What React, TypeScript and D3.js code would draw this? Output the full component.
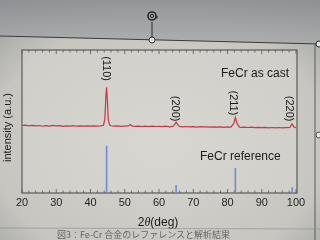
import React from "react";
import * as d3 from "d3";

// 2θ (deg) and intensity (a.u.) – FeCr as cast
const castAngle = [20, 21, 22, 23, 24, 25, 26, 27, 28, 29, 30, 31, 32, 33, 34, 35, 36, 37, 38, 39, 40, 41, 42, 43, 43.8, 44.2, 44.5, 44.7, 44.9, 45.2, 45.6, 46, 47, 48, 49, 50, 51, 51.6, 52.2, 53, 54, 55, 56, 57, 58, 59, 60, 61, 62, 63, 64, 64.6, 65, 65.4, 66, 67, 68, 69, 70, 71, 72, 73, 74, 75, 76, 77, 78, 79, 80, 81, 81.8, 82.3, 82.8, 83.5, 84, 85, 86, 87, 88, 89, 90, 91, 92, 93, 94, 95, 96, 97, 98.2, 98.8, 99.4, 100];
const castIntensity = [47.2, 47.5, 46.9, 47.3, 46.9, 47.2, 46.7, 47.1, 46.8, 47.3, 46.9, 47.1, 46.6, 47.0, 46.8, 47.1, 46.7, 46.9, 46.8, 47.0, 46.7, 46.9, 46.8, 47.0, 47.4, 52, 68, 74, 66, 51, 47.5, 47.0, 46.7, 46.9, 46.6, 46.8, 46.9, 47.9, 46.8, 46.6, 46.8, 46.5, 46.7, 46.4, 46.7, 46.5, 46.6, 46.4, 46.7, 46.3, 46.6, 48.0, 49.6, 48.0, 46.6, 46.3, 46.5, 46.2, 46.4, 46.1, 46.4, 46.2, 46.3, 46.0, 46.3, 46.1, 46.2, 45.9, 46.2, 46.0, 48.5, 52.8, 48.5, 46.1, 45.9, 46.1, 45.8, 46.0, 45.7, 45.9, 45.7, 45.9, 45.6, 45.8, 45.6, 45.8, 45.5, 45.7, 45.8, 48.3, 46.2, 45.6];

// FeCr reference stick pattern
const refAngle = [44.7, 65.0, 82.3, 98.9];
const refIntensity = [33, 5.6, 17.5, 4];

// peak labels
const peakLabels = ["(110)", "(200)", "(211)", "(220)"];
const peakLabelAngle = [44.7, 65.0, 81.9, 98.3];
const peakLabelLevel = [87, 59, 63, 59];

const xTicksMajor = [20, 30, 40, 50, 60, 70, 80, 90, 100];

export default function App() {
  const W = 320, H = 240;
  const left = 22, right = 297, top = 50, bottom = 193;
  const x = d3.scaleLinear().domain([20, 100]).range([left, right - 1]);
  const y = d3.scaleLinear().domain([0, 100]).range([bottom, top]);
  const pts = castAngle.map((a, i) => [a, castIntensity[i]] as [number, number]);
  const line = d3.line<[number, number]>().x(d => x(d[0])).y(d => y(d[1]));
  const minor = d3.range(20, 100.1, 2);
  const font = "'Liberation Sans', Arial, sans-serif";
  return (
    <svg width={W} height={H} style={{ position: "fixed", left: 0, top: 0 }}>
      <defs>
        <radialGradient id="bg" cx="0.5" cy="0.6" r="0.75">
          <stop offset="0" stopColor="#d6d5cf" />
          <stop offset="0.7" stopColor="#c6c5c0" />
          <stop offset="1" stopColor="#9c9d9d" />
        </radialGradient>
        <linearGradient id="topbg" x1="0" y1="0" x2="0" y2="1">
          <stop offset="0" stopColor="#8c8e92" />
          <stop offset="1" stopColor="#a9aaaa" />
        </linearGradient>
      </defs>
      <rect width={W} height={H} fill="url(#bg)" />
      <path d="M0,0 H320 V44 L0,36 Z" fill="url(#topbg)" opacity={0.85} />
      {/* selection UI */}
      <line x1={0} y1={36} x2={320} y2={44} stroke="#3a3a3c" strokeWidth={1} />
      <line x1={152} y1={22} x2={152} y2={37} stroke="#2a2a2c" strokeWidth={1} />
      <circle cx={152} cy={40} r={3} fill="#e4e4e2" stroke="#2a2a2c" strokeWidth={1} />
      <circle cx={152} cy={16} r={4} fill="none" stroke="#2a2a2c" strokeWidth={1.6} />
      <circle cx={152} cy={16} r={1.6} fill="none" stroke="#2a2a2c" strokeWidth={1} />
      <path d="M155,17 l3,-1 l-1,3 Z" fill="#2a2a2c" />
      <line x1={315} y1={44} x2={315} y2={240} stroke="#5a5a5c" strokeWidth={1} />
      <circle cx={319} cy={44} r={3} fill="#e4e4e2" stroke="#2a2a2c" strokeWidth={1} />
      <circle cx={319} cy={135} r={3} fill="#e4e4e2" stroke="#555" strokeWidth={1} />
      {/* plot frame */}
      <rect x={left} y={top} width={right - left} height={bottom - top} fill="#d9d8d2" opacity={0.5} />
      <rect x={left} y={top} width={right - left} height={bottom - top} fill="none" stroke="#444" strokeWidth={1} />
      {minor.map(t => {
        const major = t % 10 === 0;
        const L = major ? 4 : 2.5;
        return (
          <g key={t} stroke="#555" strokeWidth={0.8}>
            <line x1={x(t)} x2={x(t)} y1={bottom} y2={bottom - L} />
            <line x1={x(t)} x2={x(t)} y1={top} y2={top + L} />
          </g>
        );
      })}
      {xTicksMajor.map(t => (
        <text key={t} x={x(t)} y={206} textAnchor="middle" fontFamily={font} fontSize={11} fill="#262626">{t}</text>
      ))}
      {/* reference sticks */}
      {refAngle.map((a, i) => (
        <line key={a} x1={x(a)} x2={x(a)} y1={y(0)} y2={y(refIntensity[i])} stroke="#6b8ed0" strokeWidth={1.6} />
      ))}
      <path d={line(pts) || ""} fill="none" stroke="#cc3448" strokeWidth={1.2} />
      {peakLabels.map((l, i) => (
        <text key={l} transform={`translate(${x(peakLabelAngle[i]) - 4},${y(peakLabelLevel[i])}) rotate(90)`} textAnchor="middle" fontFamily={font} fontSize={11} fill="#1a1a1a">{l}</text>
      ))}
      <text x={221} y={77} fontFamily={font} fontSize={12} fill="#1a1a1a">FeCr as cast</text>
      <text x={200} y={160} fontFamily={font} fontSize={12} fill="#1a1a1a">FeCr reference</text>
      <text transform={`translate(11,${(top + bottom) / 2 + 6}) rotate(-90)`} textAnchor="middle" fontFamily={font} fontSize={11} fill="#1a1a1a">intensity (a.u.)</text>
      <text x={158} y={226} textAnchor="middle" fontFamily={font} fontSize={12} fill="#1a1a1a">2<tspan fontStyle="italic" fontFamily="'Liberation Serif', serif">θ</tspan>(deg)</text>
      <line x1={0} y1={228} x2={320} y2={229} stroke="#8a8a88" strokeWidth={0.6} />
      <text x={57} y={238} fontFamily="'Noto Sans CJK JP', serif" fontSize={9} fill="#4a4a4a" opacity={0.8}>図3：Fe-Cr 合金のレファレンスと解析結果</text>
    </svg>
  );
}
